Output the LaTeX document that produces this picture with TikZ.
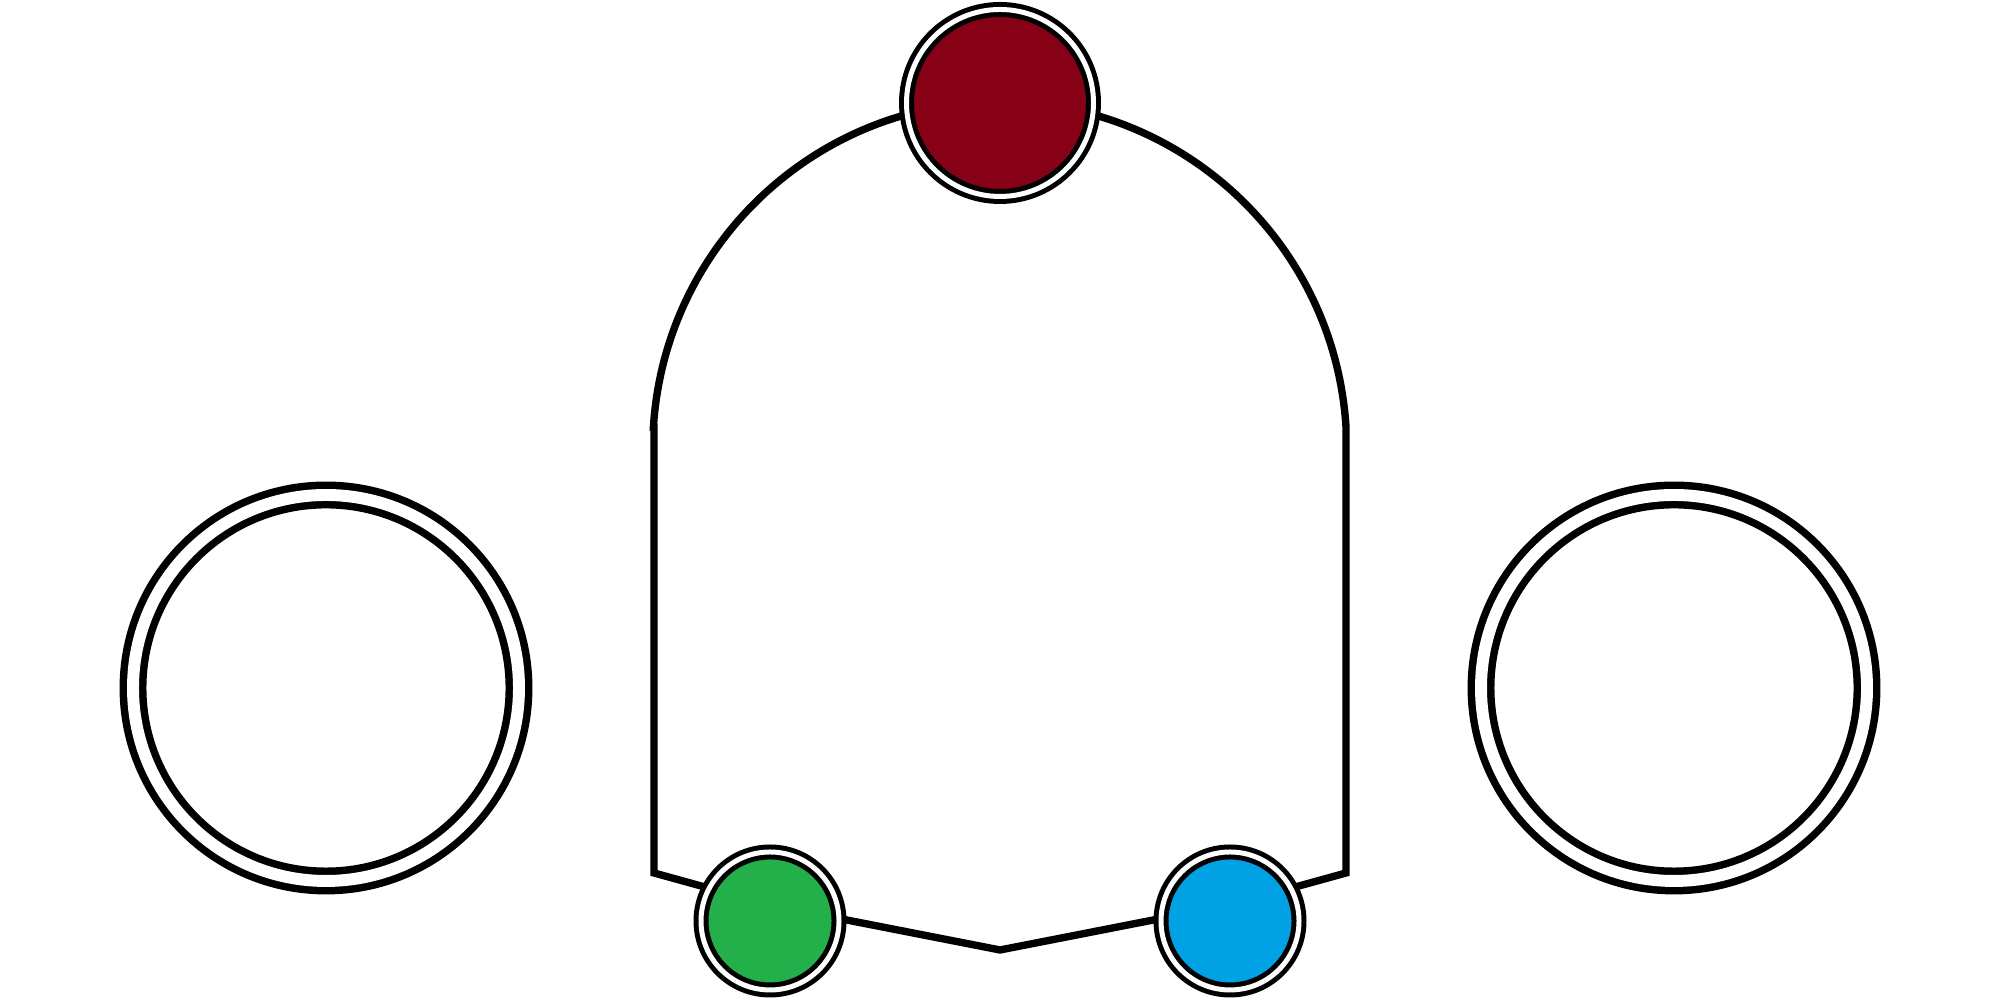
\documentclass[tikz,border=0pt]{standalone}
\usepackage{xcolor}
\usepackage{tikz}
\usetikzlibrary{positioning}

\definecolor{podred}{RGB}{134,0,22}
\definecolor{podgreen}{RGB}{35,176,75}
\definecolor{podblue}{RGB}{0,162,228}

\begin{document}
\begin{tikzpicture}[
  outline/.style={draw=black, line width=2.1pt, line join=miter},
  pod/.style={circle, draw=black, double=white, line width=1.42pt, double distance=1.42pt, minimum size=1.38cm, inner sep=0pt},
  wheel/.style={circle, draw=black, double=white, line width=2.13pt, double distance=3.4pt, minimum size=3.86cm, inner sep=0pt}
]
\useasboundingbox (0,0) rectangle (20,10);
% body outline
\coordinate (lt) at (6.54,5.73);
\coordinate (lb) at (6.54,1.27);
\coordinate (gv) at (7.70,0.95);
\coordinate (bm) at (10.00,0.50);
\coordinate (bv) at (12.30,0.95);
\coordinate (rb) at (13.46,1.27);
\coordinate (rt) at (13.46,5.73);
\draw[outline] (lt) -- (lb) -- (gv) -- (bm) -- (bv) -- (rb) -- (rt)
  arc[start angle=3.6, end angle=176.4, radius=3.47] -- cycle;
% wheels
\node[wheel] (lw) at (3.26,3.12) {};
\node[wheel] (rw) at (16.74,3.12) {};
% sensors
\node[pod, fill=podred, minimum size=1.87cm] (top) at (10.00,8.97) {};
\node[pod, fill=podgreen] (left) at (7.70,0.79) {};
\node[pod, fill=podblue] (right) at (12.30,0.79) {};
\end{tikzpicture}
\end{document}
